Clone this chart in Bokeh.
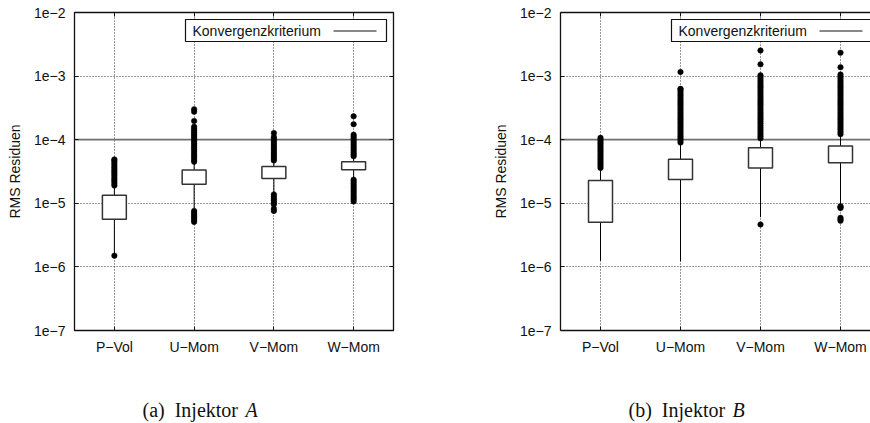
from bokeh.plotting import figure
from bokeh.layouts import row, column
from bokeh.models import (FixedTicker, LinearAxis, LogAxis, Span, Label,
                          BoxAnnotation, PolyAnnotation, ColumnDataSource,
                          CustomJSTickFormatter)
from bokeh.core.properties import value
from bokeh.embed import file_html
from bokeh.resources import INLINE

# ---------------------------------------------------------------- data
categories = ["P−Vol", "U−Mom", "V−Mom", "W−Mom"]
y_ticks = [1e-7, 1e-6, 1e-5, 1e-4, 1e-3, 1e-2]
y_tick_labels = ["1e−7", "1e−6", "1e−5", "1e−4", "1e−3", "1e−2"]
konvergenz = 1e-4
legend_text = "Konvergenzkriterium"
y_label = "RMS Residuen"
caption_tags = ["(a)\u00a0\u00a0Injektor", "(b)\u00a0\u00a0Injektor"]
caption_letters = ["A", "B"]

# Injektor A: box statistics per equation
a_lower = [1.57e-6, 8.2e-6, 1.48e-5, 2.5e-5]
a_q1 = [5.6e-6, 2.0e-5, 2.45e-5, 3.38e-5]
a_median = [1.0e-5, 2.6e-5, 3.04e-5, 4.0e-5]
a_q3 = [1.34e-5, 3.35e-5, 3.78e-5, 4.52e-5]
a_upper = [1.81e-5, 4.3e-5, 4.47e-5, 5.2e-5]
a_outliers = [
    [1.9e-5, 2.05e-5, 2.2e-5, 2.35e-5, 2.5e-5, 2.7e-5, 2.9e-5, 3.1e-5, 3.3e-5,
     3.55e-5, 3.8e-5, 4.1e-5, 4.4e-5, 4.7e-5, 4.9e-5, 1.5e-6],
    [4.5e-5, 4.8e-5, 5.2e-5, 5.6e-5, 6.0e-5, 6.5e-5, 7.0e-5, 7.5e-5, 8.0e-5,
     8.6e-5, 9.2e-5, 9.9e-5, 1.06e-4, 1.14e-4, 1.22e-4, 1.31e-4, 1.4e-4,
     1.5e-4, 1.6e-4, 1.97e-4, 2.75e-4, 3.0e-4,
     7.6e-6, 7.1e-6, 6.6e-6, 6.2e-6, 5.8e-6, 5.4e-6, 5.1e-6],
    [4.7e-5, 5.0e-5, 5.4e-5, 5.8e-5, 6.2e-5, 6.7e-5, 7.2e-5, 7.7e-5, 8.3e-5,
     8.9e-5, 9.6e-5, 1.03e-4, 1.1e-4, 1.27e-4,
     1.38e-5, 1.28e-5, 1.19e-5, 1.11e-5, 1.03e-5, 9.6e-6, 8.2e-6, 7.6e-6],
    [5.5e-5, 5.9e-5, 6.3e-5, 6.8e-5, 7.3e-5, 7.8e-5, 8.4e-5, 9.0e-5, 9.7e-5,
     1.04e-4, 1.12e-4, 1.2e-4, 1.75e-4, 2.33e-4,
     2.35e-5, 2.2e-5, 2.05e-5, 1.9e-5, 1.77e-5, 1.65e-5, 1.53e-5, 1.42e-5,
     1.32e-5, 1.23e-5, 1.15e-5, 1.07e-5],
]

# Injektor B: box statistics per equation
b_lower = [1.25e-6, 1.22e-6, 6.05e-6, 9.4e-6]
b_q1 = [5.05e-6, 2.37e-5, 3.6e-5, 4.36e-5]
b_median = [1.28e-5, 3.65e-5, 5.37e-5, 6.4e-5]
b_q3 = [2.28e-5, 4.92e-5, 7.5e-5, 7.96e-5]
b_upper = [3.39e-5, 8.5e-5, 1.0e-4, 1.16e-4]
b_outliers = [
    [3.6e-5, 3.9e-5, 4.2e-5, 4.5e-5, 4.85e-5, 5.2e-5, 5.6e-5, 6.0e-5, 6.5e-5,
     7.0e-5, 7.5e-5, 8.1e-5, 8.7e-5, 9.3e-5, 1.0e-4, 1.07e-4],
    [9.0e-5, 9.7e-5, 1.05e-4, 1.13e-4, 1.22e-4, 1.32e-4, 1.43e-4, 1.54e-4,
     1.66e-4, 1.8e-4, 1.94e-4, 2.1e-4, 2.26e-4, 2.45e-4, 2.64e-4, 2.85e-4,
     3.08e-4, 3.33e-4, 3.6e-4, 3.88e-4, 4.19e-4, 4.53e-4, 4.89e-4, 5.28e-4,
     5.7e-4, 6.16e-4, 6.3e-4, 1.16e-3],
    [1.05e-4, 1.13e-4, 1.22e-4, 1.32e-4, 1.43e-4, 1.54e-4, 1.66e-4, 1.8e-4,
     1.94e-4, 2.1e-4, 2.26e-4, 2.45e-4, 2.64e-4, 2.85e-4, 3.08e-4, 3.33e-4,
     3.6e-4, 3.88e-4, 4.19e-4, 4.53e-4, 4.89e-4, 5.28e-4, 5.7e-4, 6.16e-4,
     6.65e-4, 7.18e-4, 7.76e-4, 8.38e-4, 9.05e-4, 9.77e-4, 1.03e-3,
     1.53e-3, 2.53e-3, 4.65e-6],
    [1.22e-4, 1.32e-4, 1.43e-4, 1.54e-4, 1.66e-4, 1.8e-4, 1.94e-4, 2.1e-4,
     2.26e-4, 2.45e-4, 2.64e-4, 2.85e-4, 3.08e-4, 3.33e-4, 3.6e-4, 3.88e-4,
     4.19e-4, 4.53e-4, 4.89e-4, 5.28e-4, 5.7e-4, 6.16e-4, 6.65e-4, 7.18e-4,
     7.76e-4, 8.38e-4, 9.05e-4, 9.77e-4, 1.06e-3, 1.38e-3, 2.33e-3,
     9.0e-6, 8.7e-6, 8.4e-6, 5.9e-6, 5.6e-6, 5.3e-6],
]

# ---------------------------------------------------------------- styling
SANS = "Liberation Sans"
SERIF = "Liberation Serif"
FONT_PX = "14px"
TOTAL_W, TOTAL_H = 870, 423
FIG_W, FIG_H = 435, 360
FRAME_TOP, FRAME_BOTTOM = 12, 30
FRAME_H = FIG_H - FRAME_TOP - FRAME_BOTTOM
BOX_W, CAP_W = 0.30, 0.22

y_fmt = CustomJSTickFormatter(args=dict(decades=y_ticks, names=y_tick_labels), code="""
    let best = 0;
    for (let i = 0; i < decades.length; i++) {
        if (Math.abs(Math.log10(tick) - Math.log10(decades[i])) <
            Math.abs(Math.log10(tick) - Math.log10(decades[best]))) best = i;
    }
    return names[best];
""")
x_fmt = CustomJSTickFormatter(args=dict(cats=categories),
                              code="return cats[Math.round(tick) - 1] || '';")
blank_fmt = CustomJSTickFormatter(code="return '';")


def style_axis(ax):
    ax.major_tick_in = 4
    ax.major_tick_out = 0
    ax.minor_tick_line_color = None
    ax.major_tick_line_color = "#111111"
    ax.major_label_text_font = SANS
    ax.major_label_text_font_size = FONT_PX
    ax.major_label_text_color = "#111111"


def panel(lower, q1, median, q3, upper, outliers, x_end, left_border,
          right_border, closed):
    xs = list(range(1, len(categories) + 1))
    p = figure(width=FIG_W, height=FIG_H, output_backend="svg",
               toolbar_location=None, y_axis_type="log",
               x_range=(0.5, x_end), y_range=(y_ticks[0], y_ticks[-1]),
               min_border_left=left_border, min_border_right=right_border,
               min_border_top=FRAME_TOP, min_border_bottom=FRAME_BOTTOM)
    p.background_fill_color = "white"
    p.border_fill_color = "white"

    if closed:
        p.outline_line_color = "#111111"
        p.outline_line_width = 1.3
    else:
        p.outline_line_color = None

    # axes
    p.xaxis.ticker = FixedTicker(ticks=xs)
    p.xaxis.formatter = x_fmt
    p.xaxis.major_label_standoff = 8
    p.yaxis.ticker = FixedTicker(ticks=y_ticks)
    p.yaxis.formatter = y_fmt
    p.yaxis.major_label_standoff = 9
    p.yaxis.axis_label = y_label
    p.yaxis.axis_label_text_font = SANS
    p.yaxis.axis_label_text_font_size = FONT_PX
    p.yaxis.axis_label_text_font_style = "normal"
    p.yaxis.axis_label_text_color = "#111111"
    p.yaxis.axis_label_standoff = 8
    for ax in (p.xaxis[0], p.yaxis[0]):
        style_axis(ax)
        ax.axis_line_color = None if closed else "#111111"
        ax.axis_line_width = 1.3

    top = LinearAxis(ticker=FixedTicker(ticks=xs), formatter=blank_fmt)
    style_axis(top)
    top.axis_line_color = None if closed else "#111111"
    top.axis_line_width = 1.3
    top.major_label_standoff = 0
    p.add_layout(top, "above")
    if closed:
        right = LogAxis(ticker=FixedTicker(ticks=y_ticks), formatter=blank_fmt)
        style_axis(right)
        right.axis_line_color = None
        right.major_label_standoff = 0
        p.add_layout(right, "right")

    # dotted grid
    p.xgrid.ticker = FixedTicker(ticks=xs)
    p.ygrid.ticker = FixedTicker(ticks=y_ticks)
    for g in (p.xgrid[0], p.ygrid[0]):
        g.grid_line_color = "#333333"
        g.grid_line_dash = "1 2"
        g.grid_line_width = 1
    p.ygrid.minor_grid_line_color = None

    # convergence criterion
    p.add_layout(Span(location=konvergenz, dimension="width",
                      line_color="#6e6e6e", line_width=1.8, level="underlay"))

    src = ColumnDataSource(dict(x=xs, lower=lower, q1=q1, median=median,
                                q3=q3, upper=upper))
    # whiskers and caps
    p.segment(x0="x", x1="x", y0="q3", y1="upper", source=src,
              line_color="black", line_width=1)
    p.segment(x0="x", x1="x", y0="lower", y1="q1", source=src,
              line_color="black", line_width=1)
    for ycol in ("upper", "lower"):
        p.rect(x="x", y=ycol, width=CAP_W, height=0, source=src,
               line_color="black", line_width=1, fill_alpha=0)
    # outliers
    ox = [x for x, vals in zip(xs, outliers) for _ in vals]
    oy = [v for vals in outliers for v in vals]
    p.scatter(ox, oy, size=5.5, marker="circle", fill_color="black",
              line_color="black", line_width=0.5)
    # boxes and medians
    p.vbar(x="x", bottom="q1", top="q3", width=BOX_W, source=src,
           fill_color="white", line_color="#333333", line_width=1.5)
    p.rect(x="x", y="median", width=BOX_W, height=0, source=src,
           line_color="#333333", line_width=1.5, fill_alpha=0)

    # key box with text on the left and line sample on the right
    # (frame-relative screen units, measured upward from the frame bottom)
    key_mid = FRAME_H - 18.5
    p.add_layout(BoxAnnotation(left=111, right=312,
                               top=FRAME_H - 7, bottom=FRAME_H - 29,
                               left_units="screen", right_units="screen",
                               top_units="screen", bottom_units="screen",
                               fill_color="white", fill_alpha=1,
                               line_color="#111111", line_alpha=1,
                               line_width=1.2))
    p.add_layout(Label(x=118, y=key_mid, x_units="screen",
                       y_units="screen", text=legend_text,
                       text_font=SANS, text_font_size=FONT_PX,
                       text_color="#111111", text_baseline="middle",
                       text_align="left"))
    p.add_layout(PolyAnnotation(xs=[259, 302], ys=[key_mid, key_mid],
                                xs_units="screen", ys_units="screen",
                                line_color="#111111", line_alpha=1,
                                line_width=1, fill_alpha=0))
    return p


pa = panel(a_lower, a_q1, a_median, a_q3, a_upper, a_outliers,
           x_end=4.5, left_border=74, right_border=42, closed=True)
pb = panel(b_lower, b_q1, b_median, b_q3, b_upper, b_outliers,
           x_end=4.375, left_border=125, right_border=0, closed=False)

# caption strip under both panels (pixel coordinates, y counted downward)
cap_h = TOTAL_H - FIG_H
cap = figure(width=TOTAL_W, height=cap_h, output_backend="svg",
             toolbar_location=None, x_range=(0, TOTAL_W), y_range=(cap_h, 0),
             x_axis_location=None, y_axis_location=None, min_border=0)
cap.outline_line_color = None
cap.grid.visible = False
cap.background_fill_color = "white"
cap.border_fill_color = "white"
caption_mid = 409 - FIG_H
cap.text(x=[142, 628], y=[caption_mid, caption_mid], text=caption_tags,
         text_font=value(SERIF), text_font_size="20px", text_color="#111111",
         text_baseline="middle", text_align="left")
cap.text(x=[245, 732], y=[caption_mid, caption_mid], text=caption_letters,
         text_font=value(SERIF), text_font_size="20px",
         text_font_style="italic", text_color="#111111",
         text_baseline="middle", text_align="left")

layout = column(row(pa, pb), cap)
open("out.html", "w").write(file_html(layout, INLINE))
